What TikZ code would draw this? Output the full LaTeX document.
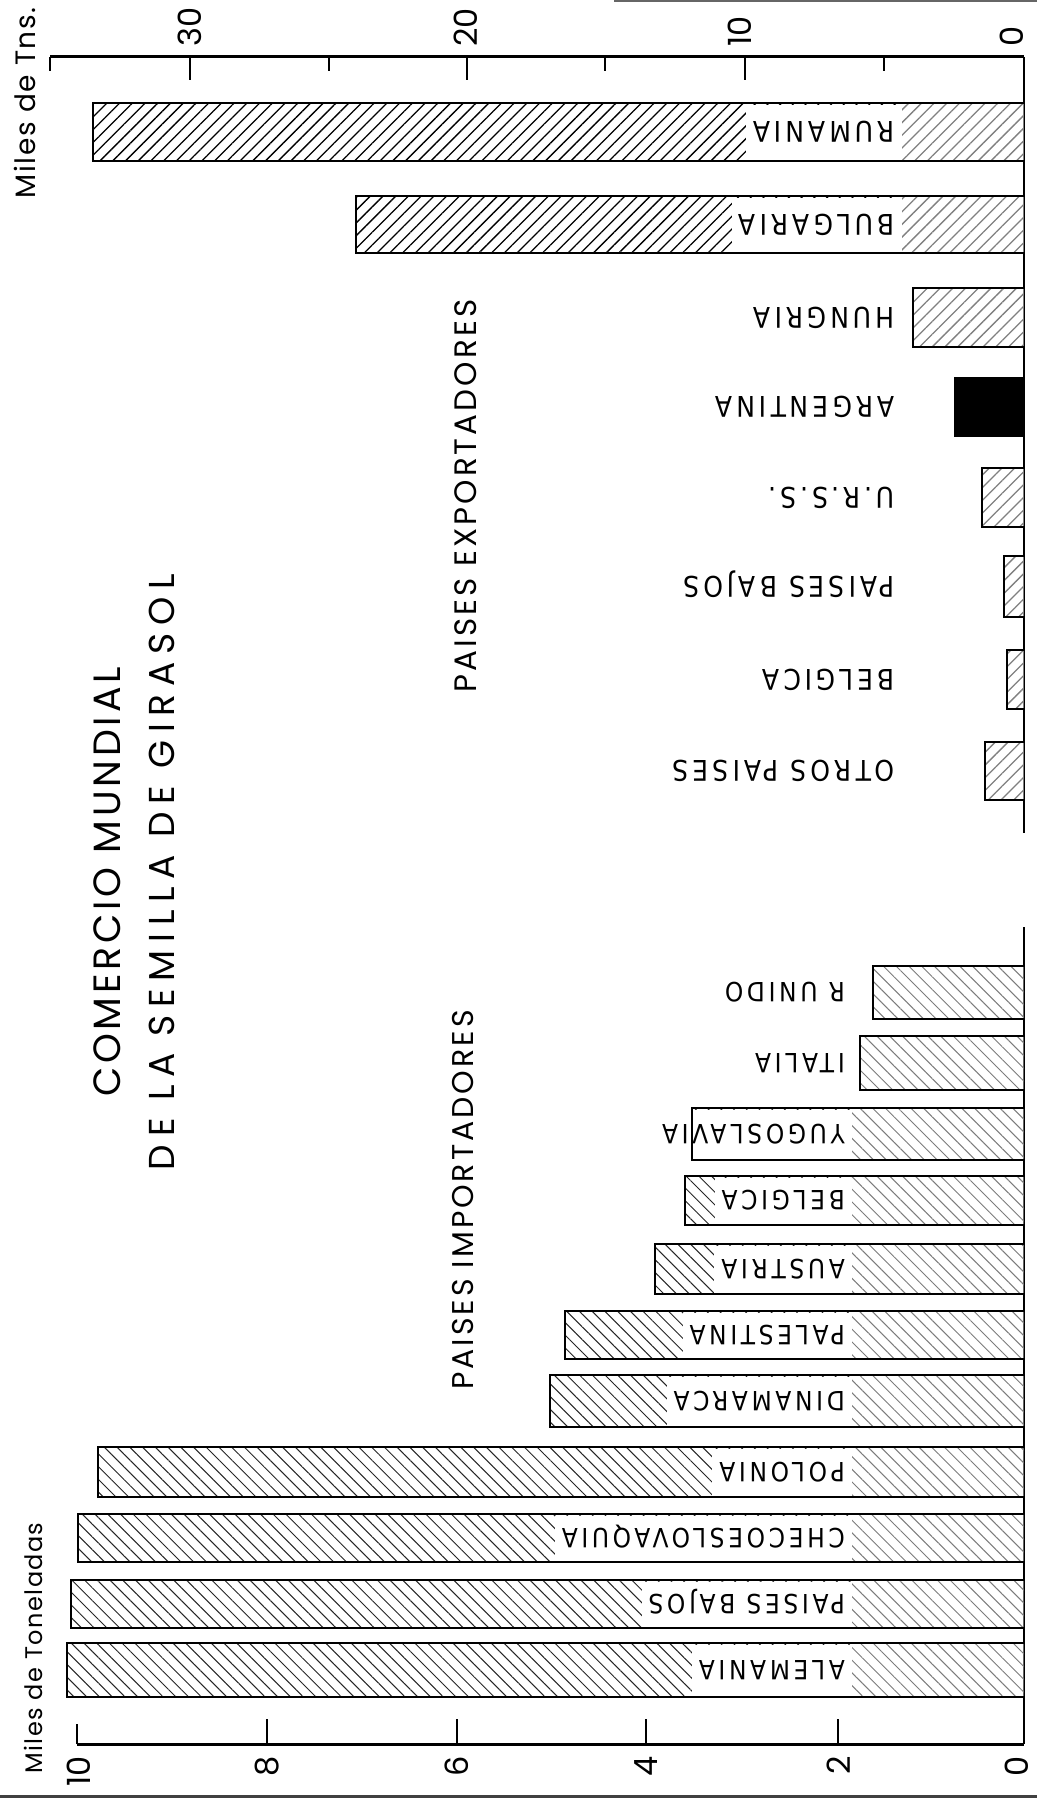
\documentclass[tikz,border=0pt]{standalone}
\usepackage{fontspec}
\usetikzlibrary{patterns.meta}
\newfontfamily\ttlfont[LetterSpace=10]{Poppins}
\newfontfamily\ttlwide[LetterSpace=21.5]{Poppins}
\newfontfamily\numfont{Poppins}
\newfontfamily\unitfont[LetterSpace=6]{Poppins}
\newfontfamily\lblfont[FakeStretch=0.88,LetterSpace=14]{DejaVu Sans}
\begin{document}
\begin{tikzpicture}[x=1pt,y=-1pt,
  hatchE/.style={pattern={Lines[angle=45,distance=9pt,line width=1.3pt]},pattern color=black},
  hatchI/.style={pattern={Lines[angle=-45,distance=9pt,line width=1pt]},pattern color=black!85},
  barline/.style={line width=2.2pt,line join=miter},
  axisline/.style={line width=3pt},
  tickline/.style={line width=2pt},
  vaxis/.style={line width=1.4pt},
  explbl/.style={rotate=180,anchor=west,font=\lblfont\fontsize{28.5}{28.5}\selectfont,
    text height=20.8pt,text depth=0pt,inner xsep=7pt,inner ysep=0pt},
  implbl/.style={rotate=180,anchor=west,font=\lblfont\fontsize{26.5}{26.5}\selectfont,
    text height=19.3pt,text depth=0pt,inner xsep=7pt,inner ysep=0pt},
  ttl/.style={rotate=90,inner sep=0pt},
  numlbl/.style={rotate=90,font=\numfont\fontsize{32}{32}\selectfont,inner sep=0pt},
  unitlbl/.style={rotate=90,inner sep=0pt}
]
\useasboundingbox (0,0) rectangle (1037,1801);

% page edge remnants
\draw[line width=3pt,black!75] (0,1796) -- (1037,1796);
\draw[line width=2pt,black!60] (614,1) -- (1037,1);

% ---------- top axis (exports, thousands of tons) ----------
\draw[axisline] (50,57) -- (1024,57);
\draw[tickline] (50,57) -- (50,71);
\foreach \x in {190,467,745} \draw[tickline] (\x,57) -- (\x,80);
\foreach \x in {329,605,884} \draw[tickline] (\x,57) -- (\x,71);
\draw[vaxis] (1024,57) -- (1024,833);
\node[numlbl,anchor=west] (t30) at (190,47) {30};
\node[numlbl,anchor=west] (t20) at (466,47) {20};
\node[numlbl,anchor=west] (t10) at (740,47) {10};
\node[numlbl,anchor=west] (t0) at (1012,47) {0};
\node[unitlbl,font=\unitfont\fontsize{28}{28}\selectfont] (unitT) at (25,103) {Miles de Tns.};

% ---------- exporters ----------
\foreach \nm/\t/\b/\l/\txt in {rum/103/161/93/RUMANIA,bul/196/253/356/BULGARIA,
  hun/288/347/913/HUNGRIA,urs/468/527/982/U.R.S.S.,pbe/556/617/1004/PAISES BAJOS,
  bel/650/709/1007/BELGICA,otr/742/800/985/OTROS PAISES}{
  \fill[hatchE] (\l,\t) rectangle (1024,\b);
  \fill[white,opacity=.5] (902,\t) rectangle (1024,\b);
  \node[explbl,fill=white,minimum height={(\b-\t-3)*1pt}] (e\nm) at (902,{(\t+\b)/2}) {\txt};
  \draw[barline] (1024,\t) -- (\l,\t) -- (\l,\b) -- (1024,\b);
}
\fill[black] (954,377) rectangle (1024,437);
\node[explbl] (earg) at (902,407) {ARGENTINA};

% ---------- importers ----------
\draw[vaxis] (1024,927) -- (1024,1744);
\foreach \nm/\t/\b/\l/\txt in {run/966/1019/873/R UNIDO,ita/1036/1090/860/ITALIA,
  yug/1108/1160/692/YUGOSLAVIA,bei/1176/1225/685/BELGICA,aus/1244/1294/655/AUSTRIA,
  pal/1311/1359/565/PALESTINA,din/1375/1427/550/DINAMARCA,pol/1447/1497/98/POLONIA,
  che/1514/1562/78/CHECOESLOVAQUIA,pbi/1580/1628/71/PAISES BAJOS,ale/1643/1697/67/ALEMANIA}{
  \fill[hatchI] (\l,\t) rectangle (1024,\b);
  \fill[white,opacity=.4] (852,\t) rectangle (1024,\b);
  \node[implbl,fill=white,minimum height={(\b-\t-3)*1pt}] (i\nm) at (852,{(\t+\b)/2}) {\txt};
  \draw[barline] (1024,\t) -- (\l,\t) -- (\l,\b) -- (1024,\b);
}

% ---------- bottom axis (imports) ----------
\draw[axisline] (77,1744) -- (1024,1744);
\draw[tickline] (77,1744) -- (77,1724);
\foreach \x in {267,457,646,838} \draw[tickline] (\x,1744) -- (\x,1719);
\node[numlbl,anchor=east] (b10) at (79,1756) {10};
\node[numlbl,anchor=east] (b8) at (267,1756) {8};
\node[numlbl,anchor=east] (b6) at (457,1756) {6};
\node[numlbl,anchor=east] (b4) at (646,1756) {4};
\node[numlbl,anchor=east] (b2) at (839,1756) {2};
\node[numlbl,anchor=east] (b0) at (1017,1756) {0};
\node[unitlbl,font=\unitfont\fontsize{24}{24}\selectfont] (unitB) at (33,1648) {Miles de Toneladas};

% ---------- titles ----------
\node[ttl,font=\ttlfont\fontsize{38}{38}\selectfont] (title1) at (107,882) {COMERCIO MUNDIAL};
\node[ttl,font=\ttlwide\fontsize{36}{36}\selectfont] (title2) at (162,872) {DE LA SEMILLA DE GIRASOL};
\node[ttl,font=\ttlfont\fontsize{31}{31}\selectfont] (hexp) at (466,496) {PAISES EXPORTADORES};
\node[ttl,font=\ttlfont\fontsize{30}{30}\selectfont] (himp) at (463,1200) {PAISES IMPORTADORES};
\end{tikzpicture}
\end{document}
